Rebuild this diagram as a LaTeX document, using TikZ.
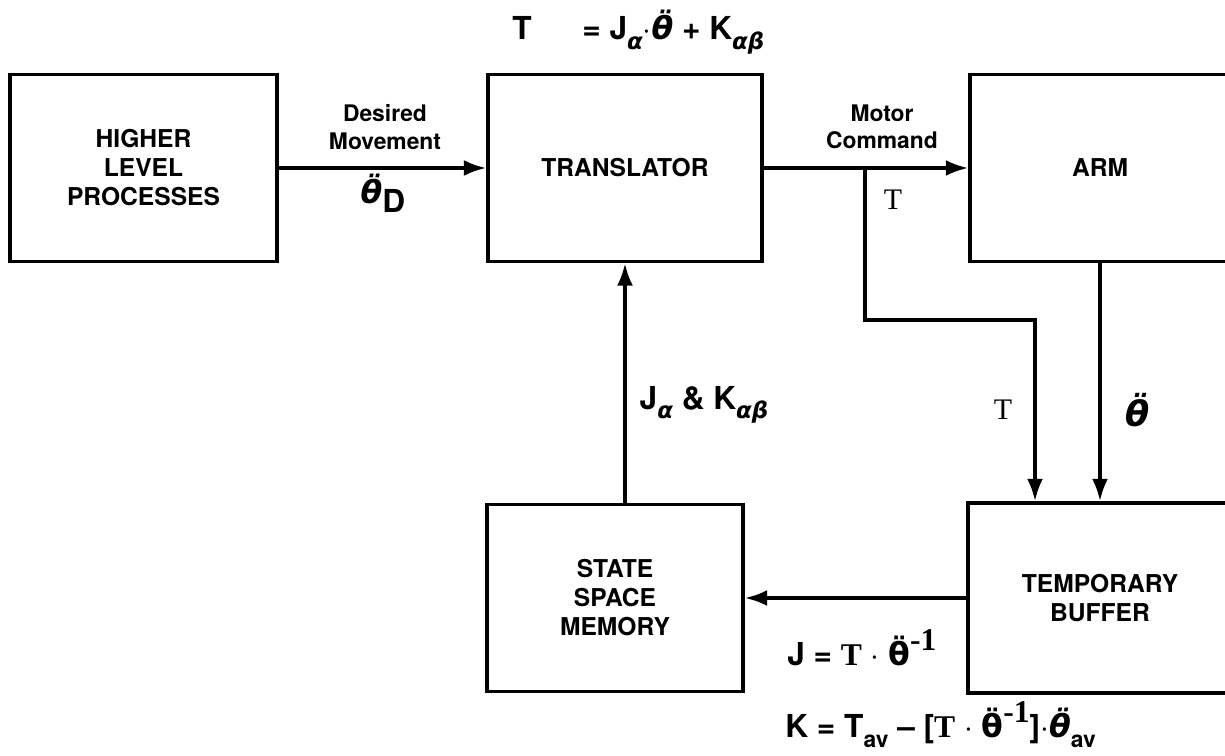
\documentclass[tikz,border=0pt]{standalone}
\usepackage{fix-cm}
\usepackage{amsmath}
\usepackage{fontspec}
\setmainfont{TeX Gyre Heros}
\newfontfamily\serifT{Liberation Serif}
\newfontfamily\grk{DejaVu Sans}
\newcommand{\grkit}[1]{{\grk\bfseries\itshape #1}}
\newcommand{\grkup}[1]{{\grk\bfseries #1}}
\newcommand{\lowsub}[1]{\raisebox{-0.55ex}{\fontsize{13}{15}\selectfont #1}}
\usetikzlibrary{arrows.meta, positioning}

\begin{document}
\begin{tikzpicture}[
				x=0.02cm, y=-0.02cm,
				block/.style={draw, line width=2pt, align=center, inner sep=0pt, font=\fontsize{14}{16.5}\selectfont\bfseries},
				arr/.style={-{Latex[length=4.5mm, width=3.2mm]}, line width=2pt},
				lbl/.style={align=center, font=\fontsize{13}{15.5}\selectfont\bfseries},
				eq/.style={inner sep=0pt, font=\fontsize{18}{21}\selectfont\bfseries},
				sym/.style={inner sep=0pt, font=\serifT\fontsize{17}{20}\selectfont}
			]
				\useasboundingbox (0,0) rectangle (1225,756);
				\clip (0,0) rectangle (1225,756);

				\node[block, minimum width=5.34cm, minimum height=3.74cm] (higher) at (143.5,168) {HIGHER\\LEVEL\\PROCESSES};
				\node[block, minimum width=5.48cm, minimum height=3.74cm] (trans) at (625,168) {TRANSLATOR};
				\node[block, minimum width=5.2cm, minimum height=3.74cm] (arm) at (1100,168) {ARM};
				\node[block, minimum width=5.12cm, minimum height=3.74cm] (mem) at (615,598) {STATE\\SPACE\\MEMORY};
				\node[block, minimum width=5.28cm, minimum height=3.8cm] (buf) at (1100,598) {TEMPORARY\\BUFFER};

				% labels on the connectors
				\node[eq, anchor=base west] (torque) at (512,40) {T\hspace{1.6em}= J\lowsub{\grkit{α}}$\cdot$\grkit{θ̈} + K\lowsub{\grkit{αβ}}};
				\node[lbl] (desired) at (385,127) {Desired\\Movement};
				\node[eq] (thetaD) at (383,193) {\grkit{θ̈}\raisebox{-0.5ex}{D}};
				\node[lbl] (motor) at (882,127) {Motor\\Command};
				\node[sym] (tA) at (893,200) {T};
				\node[sym] (tB) at (1003,410) {T};
				\node[eq] (thetaArm) at (1138,410) {\fontsize{20}{22}\selectfont\grkit{θ̈}};
				\node[eq] (jk) at (704,405) {J\lowsub{\grkit{α}} \& K\lowsub{\grkit{αβ}}};
				\node[eq, anchor=base west] (jeq) at (787,666) {J = {\serifT\bfseries T} $\cdot$ \grkup{θ̈}\raisebox{0.9ex}{\serifT -1}};
				\node[eq, anchor=base west] (keq) at (785,738) {K = T\lowsub{av} -- [{\serifT\bfseries T} $\cdot$ \grkup{θ̈}\raisebox{0.9ex}{\serifT -1}]$\cdot$\grkit{θ̈}\lowsub{av}};

				\coordinate (split) at (865,168);
				\coordinate (tap) at (1035,320);

				\draw[arr] (higher) -- (trans);
				\draw[arr] (trans) -- (arm);
				\draw[arr] (split) |- (tap) -- (tap |- buf.north);
				\draw[arr] (arm) -- (buf);
				\draw[arr] (buf) -- (mem);
				\draw[arr] (mem.north -| trans.south) -- (trans.south);
			\end{tikzpicture}
\end{document}
